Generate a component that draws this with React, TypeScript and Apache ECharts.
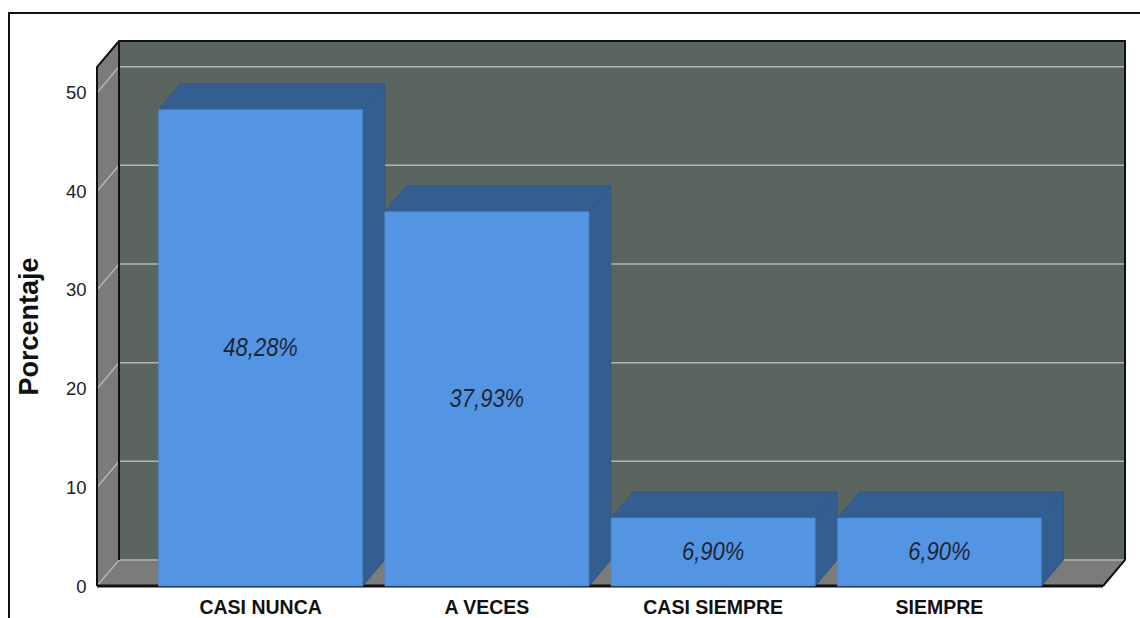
import React, { useEffect, useRef } from "react";
import * as echarts from "echarts";

const categories = ["CASI NUNCA", "A VECES", "CASI SIEMPRE", "SIEMPRE"];
const percentages = [48.28, 37.93, 6.9, 6.9];
const yTicks = [0, 10, 20, 30, 40, 50];
const yAxisTitle = "Porcentaje";

const FONT = "'Liberation Sans', Arial, Helvetica, sans-serif";
const DX = 22;
const DY = -26;
const PAD = 50.5;

const WALL_BACK = "#5b655f";
const WALL_SIDE = "#7b7b7b";
const GRID_LINE = "#b4b4b4";
const BAR_FRONT = "#5495e3";
const BAR_DARK = "#345d90";

export default function App() {
  const ref = useRef<HTMLDivElement>(null);

  useEffect(() => {
    document.body.style.margin = "0";
    const chart = echarts.init(ref.current!, null, { renderer: "svg" });

    const wallRender = (params: any, api: any) => {
      const cs = params.coordSys;
      const fl = cs.x - PAD;
      const fr = cs.x + cs.width + PAD;
      const ft = cs.y;
      const fb = api.coord([0, 0])[1];
      const children: any[] = [];
      children.push({
        type: "rect",
        shape: { x: fl + DX, y: ft + DY, width: fr - fl, height: fb - ft },
        style: { fill: WALL_BACK },
      });
      children.push({
        type: "polygon",
        shape: { points: [[fl, ft], [fl + DX, ft + DY], [fl + DX, fb + DY], [fl, fb]] },
        style: { fill: WALL_SIDE },
      });
      children.push({
        type: "polygon",
        shape: { points: [[fl, fb], [fl + DX, fb + DY], [fr + DX, fb + DY], [fr, fb]] },
        style: { fill: WALL_SIDE },
      });
      yTicks.forEach((t) => {
        const y = api.coord([0, t])[1];
        children.push({
          type: "polyline",
          shape: { points: [[fl, y], [fl + DX, y + DY], [fr + DX, y + DY]] },
          style: { stroke: GRID_LINE, lineWidth: 1.5, fill: null },
        });
      });
      children.push({
        type: "polyline",
        shape: { points: [[fl, fb], [fl, ft], [fl + DX, ft + DY], [fr + DX, ft + DY], [fr + DX, fb + DY], [fr, fb]] },
        style: { stroke: "#111", lineWidth: 2, fill: null },
      });
      children.push({
        type: "line",
        shape: { x1: fl + DX, y1: ft + DY, x2: fl + DX, y2: fb + DY },
        style: { stroke: "#111", lineWidth: 2 },
      });
      children.push({
        type: "line",
        shape: { x1: fl, y1: fb, x2: fr, y2: fb },
        style: { stroke: "#111", lineWidth: 3 },
      });
      return { type: "group", children };
    };

    const barRender = (params: any, api: any) => {
      const idx = api.value(0);
      const val = api.value(1);
      const [cx, top] = api.coord([idx, val]);
      const base = api.coord([idx, 0])[1];
      const band = api.size([1, 0])[0];
      const w = band * 0.902;
      const l = cx - w / 2;
      const r = cx + w / 2;
      const label = val.toFixed(2).replace(".", ",") + "%";
      return {
        type: "group",
        children: [
          {
            type: "polygon",
            shape: { points: [[r, top], [r + DX, top + DY], [r + DX, base + DY], [r, base]] },
            style: { fill: BAR_DARK, stroke: "#2f5584", lineWidth: 0.8 },
          },
          {
            type: "polygon",
            shape: { points: [[l, top], [l + DX, top + DY], [r + DX, top + DY], [r, top]] },
            style: { fill: BAR_DARK, stroke: "#2f5584", lineWidth: 0.8 },
          },
          {
            type: "rect",
            shape: { x: l, y: top, width: w, height: base - top },
            style: { fill: BAR_FRONT, stroke: "#4a86cf", lineWidth: 0.8 },
          },
          {
            type: "text",
            x: cx,
            y: (top + base) / 2,
            scaleY: 1.15,
            style: {
              x: 0,
              y: 0,
              text: label,
              fill: "#1c2636",
              font: `italic 22px ${FONT}`,
              align: "center",
              verticalAlign: "middle",
            },
          },
        ],
      };
    };

    chart.setOption({
      animation: false,
      backgroundColor: "#ffffff",
      textStyle: { fontFamily: FONT },
      graphic: [
        {
          type: "rect",
          shape: { x: 9, y: 13, width: 1200, height: 700 },
          style: { fill: null, stroke: "#111", lineWidth: 2 },
          z: 100,
          silent: true,
        },
      ],
      grid: { left: 147.5, right: 87.5, top: 67, bottom: 32 },
      xAxis: {
        type: "category",
        data: categories,
        axisLine: { show: false },
        axisTick: { show: false },
        axisLabel: {
          margin: 11,
          color: "#111",
          fontWeight: "bold",
          fontSize: 19.5,
          fontFamily: FONT,
        },
      },
      yAxis: {
        type: "value",
        min: 0,
        max: 52.6,
        interval: 10,
        name: yAxisTitle,
        nameLocation: "middle",
        nameRotate: 90,
        nameGap: 105,
        nameTextStyle: { fontSize: 27, fontWeight: "bold", color: "#111", fontFamily: FONT },
        axisLine: { show: false },
        axisTick: { show: false },
        splitLine: { show: false },
        axisLabel: {
          margin: 61,
          color: "#222",
          fontSize: 18.5,
          fontFamily: FONT,
          padding: [6, 0, 0, 0],
          formatter: (v: number) => (yTicks.includes(v) ? String(v) : ""),
        },
      },
      series: [
        {
          type: "custom",
          renderItem: wallRender,
          data: [[0, 0]],
          z: 1,
          silent: true,
        },
        {
          type: "custom",
          renderItem: barRender,
          data: percentages.map((v, i) => [i, v]),
          z: 2,
          encode: { x: 0, y: 1 },
        },
      ],
    });

    return () => chart.dispose();
  }, []);

  return <div ref={ref} style={{ width: 1140, height: 618 }} />;
}
